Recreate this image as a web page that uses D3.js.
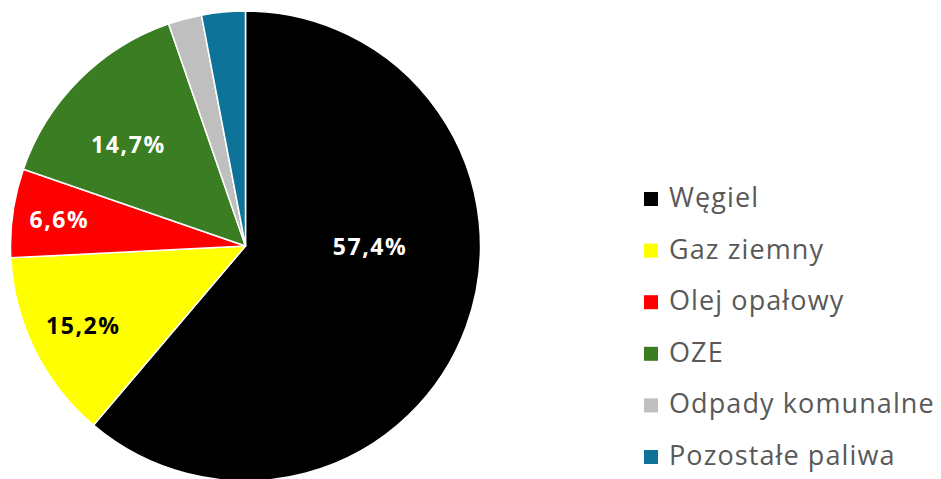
<!DOCTYPE html>
<html>
<head>
<meta charset="utf-8">
<script src="https://cdn.jsdelivr.net/npm/d3@7"></script>
<style>
  body { margin: 0; background: #fff; }
  svg { display: block; }
</style>
</head>
<body>
<div id="chart"></div>
<script>
    const categories = ["Węgiel", "Gaz ziemny", "Olej opałowy", "OZE", "Odpady komunalne", "Pozostałe paliwa"];
    const values = [61.2, 13.0, 6.1, 14.4, 2.3, 3.0];
    const labels = ["57,4%", "15,2%", "6,6%", "14,7%", "", ""];
    const colors = ["#000000", "#ffff00", "#ff0000", "#3b7d23", "#bfbfbf", "#0e7399"];
    const labelColors = ["#ffffff", "#000000", "#ffffff", "#ffffff"];

    const width = 941, height = 479;
    const cx = 245.5, cy = 246, radius = 235;

    // label spots: radius as a share of the pie radius, angle shift in degrees from the slice middle
    const labelRad = [0.53, 0.77, 0.80, 0.66];
    const labelShift = [-20, 0, 0, -4];

    const svg = d3.select("#chart").append("svg")
        .attr("width", width)
        .attr("height", height);

    const g = svg.append("g").attr("transform", "translate(" + cx + "," + cy + ")");

    const pie = d3.pie().sort(null).value(d => d);
    const arcs = pie(values);
    const arc = d3.arc().innerRadius(0).outerRadius(radius);

    g.selectAll("path.slice")
        .data(arcs)
        .enter().append("path")
        .attr("class", "slice")
        .attr("d", arc)
        .attr("fill", (d, i) => colors[i])
        .attr("stroke", "#fff")
        .attr("stroke-width", 1.5)
        .attr("stroke-linejoin", "round");

    // data labels
    g.selectAll("text.lbl")
        .data(arcs.filter((d, i) => labels[i]))
        .enter().append("text")
        .attr("class", "lbl")
        .attr("transform", (d, i) => {
            const a = (d.startAngle + d.endAngle) / 2 + labelShift[i] * Math.PI / 180;
            const r = radius * labelRad[i];
            return "translate(" + (Math.sin(a) * r) + "," + (-Math.cos(a) * r) + ")";
        })
        .attr("text-anchor", "middle")
        .attr("dy", "0.36em")
        .style("font-family", "'Open Sans', sans-serif")
        .style("font-weight", "bold")
        .style("font-size", "23px")
        .style("letter-spacing", "1.6px")
        .attr("fill", (d, i) => labelColors[i])
        .text((d, i) => labels[i]);

    // legend
    const legY = d3.scalePoint().domain(categories).range([207, 465]);
    const leg = svg.append("g").selectAll("g")
        .data(categories)
        .enter().append("g")
        .attr("transform", d => "translate(644," + legY(d) + ")");

    leg.append("rect")
        .attr("x", 0)
        .attr("y", -15)
        .attr("width", 14)
        .attr("height", 14)
        .attr("fill", (d, i) => colors[i]);

    leg.append("text")
        .attr("x", 25)
        .attr("y", 0)
        .style("font-family", "'Open Sans', sans-serif")
        .style("font-size", "27px")
        .style("letter-spacing", "1.1px")
        .attr("fill", "#595959")
        .text(d => d);
</script>
</body>
</html>
